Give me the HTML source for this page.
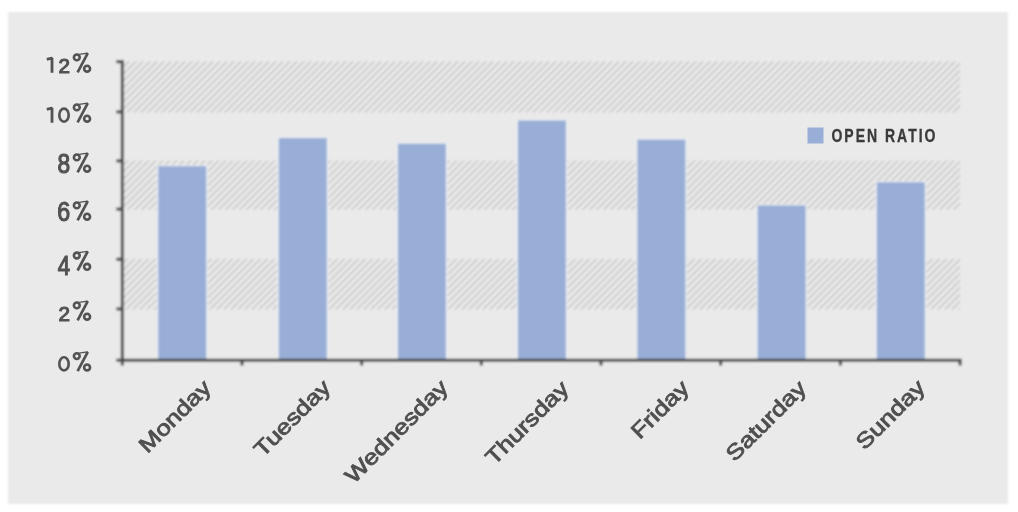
<!DOCTYPE html>
<html><head><meta charset="utf-8"><style>
html,body{margin:0;padding:0;background:#fff;width:1018px;height:512px;overflow:hidden}
svg{display:block}
.yl{font-family:"Liberation Sans",sans-serif;fill:#525252;stroke:#525252}
.xl{font-family:"Liberation Sans",sans-serif;fill:#4f4f4f;font-size:25px;stroke:#4f4f4f;stroke-width:0.95px}
.lg{font-family:"Liberation Sans",sans-serif;font-weight:bold;fill:#3a3a3a;font-size:17.5px;stroke:#3a3a3a;stroke-width:0.35px}
</style></head><body>
<svg width="1018" height="512" viewBox="0 0 1018 512">
<defs>
<pattern id="h" patternUnits="userSpaceOnUse" width="4.95" height="4.95" patternTransform="rotate(45)">
<rect width="4.95" height="4.95" fill="#ececec"/>
<rect x="0" y="0" width="1.8" height="4.95" fill="#c8c8c8"/>
</pattern>
<filter id="bl" x="-5%" y="-5%" width="110%" height="110%"><feGaussianBlur stdDeviation="0.8"/></filter>
<filter id="bt" x="-5%" y="-5%" width="110%" height="110%"><feGaussianBlur stdDeviation="0.55"/></filter>
</defs>
<rect x="0" y="0" width="1018" height="512" fill="#fff"/>
<g filter="url(#bl)">
<rect x="8" y="12" width="1000" height="492" fill="#eaeaea"/>
<rect x="123.80" y="61.30" width="836.26" height="51.20" fill="url(#h)"/>
<rect x="123.80" y="160.50" width="836.26" height="49.20" fill="url(#h)"/>
<rect x="123.80" y="258.90" width="836.26" height="50.60" fill="url(#h)"/>
<rect x="156.60" y="164.90" width="51.20" height="195.40" fill="#e9edf2"/>
<rect x="158.20" y="166.10" width="48.00" height="194.20" fill="#98aed6"/>
<rect x="277.20" y="136.80" width="51.20" height="223.50" fill="#e9edf2"/>
<rect x="278.80" y="138.00" width="48.00" height="222.30" fill="#98aed6"/>
<rect x="396.30" y="142.50" width="51.20" height="217.80" fill="#e9edf2"/>
<rect x="397.90" y="143.70" width="48.00" height="216.60" fill="#98aed6"/>
<rect x="516.30" y="119.30" width="51.20" height="241.00" fill="#e9edf2"/>
<rect x="517.90" y="120.50" width="48.00" height="239.80" fill="#98aed6"/>
<rect x="635.75" y="138.40" width="51.20" height="221.90" fill="#e9edf2"/>
<rect x="637.35" y="139.60" width="48.00" height="220.70" fill="#98aed6"/>
<rect x="756.00" y="204.20" width="51.20" height="156.10" fill="#e9edf2"/>
<rect x="757.60" y="205.40" width="48.00" height="154.90" fill="#98aed6"/>
<rect x="875.20" y="181.00" width="51.20" height="179.30" fill="#e9edf2"/>
<rect x="876.80" y="182.20" width="48.00" height="178.10" fill="#98aed6"/>
<line x1="122.30" y1="59.90" x2="122.30" y2="365.50" stroke="#444444" stroke-width="3.0"/>
<line x1="116.30" y1="360.30" x2="961.56" y2="360.30" stroke="#444444" stroke-width="3.0"/>
<line x1="116.30" y1="308.90" x2="122.30" y2="308.90" stroke="#444444" stroke-width="3.0"/>
<line x1="116.30" y1="259.30" x2="122.30" y2="259.30" stroke="#444444" stroke-width="3.0"/>
<line x1="116.30" y1="209.10" x2="122.30" y2="209.10" stroke="#444444" stroke-width="3.0"/>
<line x1="116.30" y1="160.90" x2="122.30" y2="160.90" stroke="#444444" stroke-width="3.0"/>
<line x1="116.30" y1="111.90" x2="122.30" y2="111.90" stroke="#444444" stroke-width="3.0"/>
<line x1="116.30" y1="61.70" x2="122.30" y2="61.70" stroke="#444444" stroke-width="3.0"/>
<line x1="241.98" y1="360.30" x2="241.98" y2="365.50" stroke="#444444" stroke-width="3.0"/>
<line x1="361.66" y1="360.30" x2="361.66" y2="365.50" stroke="#444444" stroke-width="3.0"/>
<line x1="481.34" y1="360.30" x2="481.34" y2="365.50" stroke="#444444" stroke-width="3.0"/>
<line x1="601.02" y1="360.30" x2="601.02" y2="365.50" stroke="#444444" stroke-width="3.0"/>
<line x1="720.70" y1="360.30" x2="720.70" y2="365.50" stroke="#444444" stroke-width="3.0"/>
<line x1="840.38" y1="360.30" x2="840.38" y2="365.50" stroke="#444444" stroke-width="3.0"/>
<line x1="960.06" y1="360.30" x2="960.06" y2="365.50" stroke="#444444" stroke-width="3.0"/>
</g><g filter="url(#bt)">
<g fill="none" stroke="#525252" stroke-width="2.6"><circle cx="76.8" cy="57.40" r="2.9"/><circle cx="87.1" cy="68.70" r="2.95"/><path d="M87.8 53.20 L77.6 72.40" stroke-width="2.7"/><path d="M77.6 54.60 Q82 54.20 87.8 53.20" stroke-width="1.3"/></g>
<path d="M46.8 59.40 L52 58.00 L52 72.80" fill="none" stroke="#525252" stroke-width="2.8" stroke-linejoin="bevel"/>
<text class="yl" font-size="100" stroke-width="5.30" transform="translate(58.57 72.80) scale(0.2065 0.2086)">2</text>
<g fill="none" stroke="#525252" stroke-width="2.6"><circle cx="76.8" cy="107.40" r="2.9"/><circle cx="87.1" cy="118.70" r="2.95"/><path d="M87.8 103.20 L77.6 122.40" stroke-width="2.7"/><path d="M77.6 104.60 Q82 104.20 87.8 103.20" stroke-width="1.3"/></g>
<path d="M46.8 109.40 L52 108.00 L52 122.80" fill="none" stroke="#525252" stroke-width="2.8" stroke-linejoin="bevel"/>
<ellipse cx="64.0" cy="115.20" rx="4.7" ry="6.6" fill="none" stroke="#525252" stroke-width="2.6"/>
<g fill="none" stroke="#525252" stroke-width="2.6"><circle cx="76.8" cy="157.40" r="2.9"/><circle cx="87.1" cy="168.70" r="2.95"/><path d="M87.8 153.20 L77.6 172.40" stroke-width="2.7"/><path d="M77.6 154.60 Q82 154.20 87.8 153.20" stroke-width="1.3"/></g>
<text class="yl" font-size="100" stroke-width="4.37" transform="translate(57.49 172.52) scale(0.2277 0.2761)">8</text>
<g fill="none" stroke="#525252" stroke-width="2.6"><circle cx="76.8" cy="205.40" r="2.9"/><circle cx="87.1" cy="216.70" r="2.95"/><path d="M87.8 201.20 L77.6 220.40" stroke-width="2.7"/><path d="M77.6 202.60 Q82 202.20 87.8 201.20" stroke-width="1.3"/></g>
<text class="yl" font-size="100" stroke-width="4.33" transform="translate(57.24 220.52) scale(0.2326 0.2761)">6</text>
<g fill="none" stroke="#525252" stroke-width="2.6"><circle cx="76.8" cy="255.50" r="2.9"/><circle cx="87.1" cy="266.80" r="2.95"/><path d="M87.8 251.30 L77.6 270.50" stroke-width="2.7"/><path d="M77.6 252.70 Q82 252.30 87.8 251.30" stroke-width="1.3"/></g>
<text class="yl" font-size="100" stroke-width="4.45" transform="translate(57.76 274.70) scale(0.2216 0.2725)">4</text>
<g fill="none" stroke="#525252" stroke-width="2.6"><circle cx="76.8" cy="305.40" r="2.9"/><circle cx="87.1" cy="316.70" r="2.95"/><path d="M87.8 301.20 L77.6 320.40" stroke-width="2.7"/><path d="M77.6 302.60 Q82 302.20 87.8 301.20" stroke-width="1.3"/></g>
<text class="yl" font-size="100" stroke-width="5.30" transform="translate(58.57 320.80) scale(0.2065 0.2086)">2</text>
<g fill="none" stroke="#525252" stroke-width="2.6"><circle cx="76.8" cy="356.10" r="2.9"/><circle cx="87.1" cy="367.40" r="2.95"/><path d="M87.8 351.90 L77.6 371.10" stroke-width="2.7"/><path d="M77.6 353.30 Q82 352.90 87.8 351.90" stroke-width="1.3"/></g>
<ellipse cx="64.0" cy="363.90" rx="4.7" ry="6.6" fill="none" stroke="#525252" stroke-width="2.6"/>
<text class="xl" x="0" y="0" text-anchor="end" transform="translate(212.29 389.10) rotate(-45) scale(1.03 0.86)">Monday</text>
<text class="xl" x="0" y="0" text-anchor="end" transform="translate(331.87 388.80) rotate(-45) scale(1.03 0.86)">Tuesday</text>
<text class="xl" x="0" y="0" text-anchor="end" transform="translate(449.45 388.80) rotate(-45) scale(1.03 0.86)">Wednesday</text>
<text class="xl" x="0" y="0" text-anchor="end" transform="translate(570.08 390.00) rotate(-45) scale(1.03 0.86)">Thursday</text>
<text class="xl" x="0" y="0" text-anchor="end" transform="translate(690.26 389.30) rotate(-45) scale(1.03 0.86)">Friday</text>
<text class="xl" x="0" y="0" text-anchor="end" transform="translate(807.49 389.60) rotate(-45) scale(1.03 0.86)">Saturday</text>
<text class="xl" x="0" y="0" text-anchor="end" transform="translate(926.37 388.90) rotate(-45) scale(1.03 0.86)">Sunday</text>
<rect x="807.5" y="127.5" width="16" height="16" fill="#98aed6"/>
<text class="lg" transform="translate(831.5 142.3) scale(0.8 1)" x="0" y="0" textLength="130" lengthAdjust="spacing">OPEN RATIO</text>
</g></svg></body></html>
